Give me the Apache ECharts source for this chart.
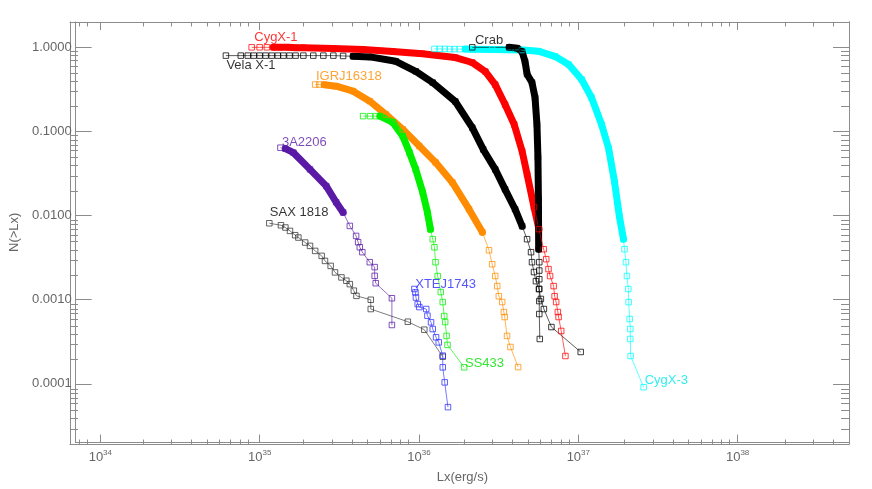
<!DOCTYPE html>
<html>
<head>
<meta charset="utf-8">
<script src="https://cdn.jsdelivr.net/npm/echarts@6/dist/echarts.min.js"></script>
<style>html,body{margin:0;padding:0;background:#fff}#c{width:872px;height:489px}</style>
</head>
<body>
<div id="c"></div>
<script>
// ---------------- data ----------------
const xRange = [7e33, 5e38];
const yRange = [2e-5, 2];
const xTickExponents = [34, 35, 36, 37, 38];
const yTickValues = [1e-4, 1e-3, 1e-2, 1e-1, 1];
const yTickLabels = ['0.0001', '0.0010', '0.0100', '0.1000', '1.0000'];

const cygx1Lx = [8.91e34,1.00e35,1.11e35,1.22e35,1.35e35,1.52e35,1.68e35,1.88e35,2.90e35,4.46e35,6.85e35,1.05e36,1.69e36,2.16e36,2.61e36,3.01e36,3.47e36,3.96e36,4.44e36,4.77e36,5.27e36,5.66e36,6.06e36,6.29e36,6.50e36,6.65e36,7.00e36,7.10e36,7.26e36,7.44e36,7.52e36,7.81e36,8.30e36];
const cygx1N  = [1.0,1.0,1.0,1.0,1.0,1.0,0.99,0.99,0.97,0.94,0.89,0.84,0.755,0.66,0.515,0.36,0.209,0.121,0.058,0.0309,0.0126,0.00689,0.00398,0.00303,0.00231,0.00191,0.00145,0.00110,0.000937,0.000713,0.000622,0.000425,0.000214];

const velaLx = [6.14e34,7.61e34,8.42e34,9.18e34,1.00e35,1.09e35,1.19e35,1.30e35,1.41e35,1.54e35,1.68e35,1.88e35,2.17e35,2.51e35,2.90e35,3.34e35,3.86e35,4.93e35,7.16e35,9.53e35,1.22e36,1.69e36,2.16e36,2.53e36,3.01e36,3.47e36,4.01e36,4.44e36,4.77e36,5.05e36,5.12e36,5.27e36,5.42e36,5.66e36,5.82e36,6.08e36,6.78e36,1.035e37];
const velaN  = [0.797,0.797,0.797,0.797,0.797,0.797,0.797,0.797,0.797,0.797,0.797,0.797,0.797,0.797,0.797,0.79,0.782,0.769,0.682,0.519,0.381,0.227,0.111,0.0611,0.0354,0.0205,0.0119,0.00747,0.00524,0.00367,0.00279,0.00213,0.00166,0.00134,0.00102,0.000774,0.000473,0.000239];

const crabLx = [2.16e36,3.68e36,4.13e36,4.44e36,4.63e36,4.77e36,5.12e36,5.35e36,5.50e36,5.58e36,5.62e36,5.64e36,5.69e36,5.69e36,5.69e36,5.69e36,5.69e36,5.69e36,5.73e36];
const crabN  = [1.0,1.0,0.978,0.889,0.676,0.48,0.381,0.253,0.121,0.0491,0.0156,0.00398,0.00279,0.00222,0.00175,0.00134,0.000962,0.000675,0.000341];

const cygx3Lx = [1.25e36,1.35e36,1.45e36,1.56e36,1.67e36,1.80e36,1.95e36,2.16e36,2.88e36,4.44e36,5.66e36,7.13e36,8.71e36,1.05e37,1.21e37,1.40e37,1.55e37,1.69e37,1.81e37,1.92e37,1.95e37,1.99e37,2.02e37,2.06e37,2.07e37,2.10e37,2.12e37,2.12e37,2.13e37,2.57e37];
const cygx3N  = [0.957,0.957,0.957,0.952,0.952,0.952,0.952,0.947,0.939,0.927,0.897,0.782,0.623,0.414,0.253,0.121,0.0629,0.0248,0.00982,0.00524,0.00398,0.00279,0.00191,0.00134,0.000936,0.000589,0.000448,0.000341,0.000214,0.0000911];

const igrLx = [2.23e35,2.37e35,2.54e35,3.02e35,3.86e35,4.91e35,6.20e35,7.91e35,1.005e36,1.27e36,1.62e36,2.06e36,2.50e36,2.75e36,2.88e36,3.01e36,3.10e36,3.17e36,3.33e36,3.41e36,3.45e36,3.57e36,3.75e36,4.19e36];
const igrN  = [0.361,0.361,0.359,0.345,0.301,0.229,0.159,0.106,0.067,0.0429,0.0248,0.0119,0.00634,0.00387,0.00264,0.00191,0.00145,0.00110,0.000937,0.000713,0.000622,0.000371,0.000274,0.000158];

const ss433Lx = [4.46e35,4.93e35,5.36e35,5.69e35,6.85e35,7.91e35,8.71e35,9.54e35,1.055e36,1.13e36,1.18e36,1.22e36,1.25e36,1.27e36,1.31e36,1.37e36,1.41e36,1.44e36,1.46e36,1.49e36,1.51e36,1.92e36];
const ss433N  = [0.152,0.152,0.152,0.152,0.128,0.0879,0.0563,0.0354,0.0189,0.0109,0.00687,0.00524,0.0042,0.00279,0.00191,0.00123,0.000937,0.000639,0.000542,0.000371,0.00029,0.000157];

const a2206Lx = [1.35e35,1.45e35,1.63e35,2.07e35,2.62e35,3.02e35,3.34e35,3.68e35,4.03e35,4.15e35,4.25e35,4.41e35,4.91e35,5.27e35,5.27e35,5.35e35,6.76e35,6.76e35];
const a2206N  = [0.0641,0.0623,0.0559,0.0354,0.0224,0.0144,0.0109,0.00753,0.00573,0.00482,0.0042,0.00367,0.00279,0.00244,0.00192,0.00157,0.00104,0.0005];

const saxLx = [1.15e35,1.36e35,1.45e35,1.55e35,1.67e35,1.75e35,1.93e35,2.07e35,2.23e35,2.45e35,2.57e35,2.79e35,2.97e35,3.26e35,3.50e35,3.68e35,3.90e35,4.05e35,4.98e35,4.98e35,8.51e35,1.08e36,1.41e36];
const saxN  = [0.0081,0.00767,0.00721,0.00657,0.00584,0.00548,0.00478,0.00436,0.0038,0.00332,0.00289,0.00252,0.00211,0.00184,0.00168,0.00153,0.00128,0.00111,0.000998,0.000774,0.000547,0.00044,0.00021];

const xteLx = [9.36e35,9.50e35,9.57e35,9.82e35,1.005e36,1.11e36,1.13e36,1.19e36,1.22e36,1.28e36,1.33e36,1.41e36,1.41e36,1.45e36,1.52e36];
const xteN  = [0.00134,0.00122,0.00106,0.000887,0.000817,0.000774,0.000645,0.000538,0.000448,0.000357,0.000311,0.000216,0.000157,0.000104,0.0000528];

// label anchors (left edge, vertical middle of text) in data units
const labelNames = ['CygX-1','Vela X-1','IGRJ16318','Crab','3A2206','SAX 1818','XTEJ1743','SS433','CygX-3'];
const labelLx = [9.18e34,6.14e34,2.24e35,2.23e36,1.37e35,1.15e35,9.40e35,1.93e36,2.59e37];
const labelN  = [1.30,0.615,0.455,1.20,0.075,0.0109,0.00153,0.000175,0.000111];

// ---------------- styles ----------------
const L = Math.log10;
const sources = [
  {name:'Vela X-1', lx:velaLx, n:velaN, color:'#000000', band:[16,27]},
  {name:'SAX 1818', lx:saxLx, n:saxN, color:'#333333', band:null},
  {name:'3A2206', lx:a2206Lx, n:a2206N, color:'#5a1aa6', band:[1,6]},
  {name:'IGRJ16318', lx:igrLx, n:igrN, color:'#ff8c00', band:[2,12]},
  {name:'SS433', lx:ss433Lx, n:ss433N, color:'#00f000', band:[3,10]},
  {name:'XTEJ1743', lx:xteLx, n:xteN, color:'#2b2bff', band:null},
  {name:'CygX-3', lx:cygx3Lx, n:cygx3N, color:'#00ffff', band:[6,19]},
  {name:'CygX-1', lx:cygx1Lx, n:cygx1N, color:'#ff0000', band:[3,21]},
  {name:'Crab', lx:crabLx, n:crabN, color:'#000000', band:[1,11]}
];
const labelColors = ['#ff0000','#000000','#ff8c00','#000000','#5a1aa6','#000000','#2b2bff','#00e000','#00e8e8'];

const axisColor = '#8c8c8c';
const labelColor = '#666666';
const fontFam = '"Liberation Sans", Arial, sans-serif';

function minorValues(lo, hi) {
  const out = [];
  for (let k = Math.floor(L(lo)); k <= Math.ceil(L(hi)); k++) {
    for (let m = 2; m <= 9; m++) {
      const v = L(m * Math.pow(10, k));
      if (v > L(lo) && v < L(hi)) out.push(v);
    }
  }
  return out;
}
const xMajor = xTickExponents.slice();
const yMajor = yTickValues.map(L);
const xMinor = minorValues(xRange[0], xRange[1]);
const yMinor = minorValues(yRange[0], yRange[1]);

const gridBox = {left:70, right:23, top:22, bottom:45, containLabel:false};

function xAxisDef(grid, pos, vals, len, withLabel) {
  return {
    type:'value', gridIndex:grid, position:pos, min:L(xRange[0]), max:L(xRange[1]),
    axisLine:{show:true, onZero:false, lineStyle:{color:axisColor, width:1}},
    axisTick:{show:true, inside:true, length:len, customValues:vals, lineStyle:{color:axisColor, width:1}},
    axisLabel: withLabel ? {
      show:true, customValues:vals, margin:7,
      formatter: v => '{b|10}{s|' + Math.round(v) + '}',
      rich:{
        b:{fontSize:13, fontFamily:fontFam, color:labelColor, lineHeight:16},
        s:{fontSize:8, fontFamily:fontFam, color:labelColor, lineHeight:16, padding:[0,0,9,0]}
      }
    } : {show:false},
    splitLine:{show:false},
    name: withLabel ? 'Lx(erg/s)' : '',
    nameLocation:'middle', nameGap:27,
    nameTextStyle:{fontSize:13, fontFamily:fontFam, color:labelColor}
  };
}
function yAxisDef(grid, pos, vals, len, withLabel) {
  return {
    type:'value', gridIndex:grid, position:pos, min:L(yRange[0]), max:L(yRange[1]),
    axisLine:{show:true, onZero:false, lineStyle:{color:axisColor, width:1}},
    axisTick:{show:true, inside:true, length:len, customValues:vals, lineStyle:{color:axisColor, width:1}},
    axisLabel: withLabel ? {
      show:true, customValues:vals, margin:4,
      fontSize:13, fontFamily:fontFam, color:labelColor,
      formatter: v => yTickLabels[yMajor.findIndex(t => Math.abs(t - v) < 1e-6)]
    } : {show:false},
    splitLine:{show:false},
    name: withLabel ? 'N(>Lx)' : '',
    nameLocation:'middle', nameGap:53, nameRotate:90,
    nameTextStyle:{fontSize:13, fontFamily:fontFam, color:labelColor}
  };
}

const series = [];
sources.forEach(s => {
  const pts = s.lx.map((x, i) => [L(x), L(s.n[i])]);
  if (s.band) {
    series.push({
      type:'line', xAxisIndex:0, yAxisIndex:0, data:pts.slice(s.band[0], s.band[1] + 1),
      symbol:'none', silent:true, z:2,
      lineStyle:{color:s.color, width:7, cap:'round', join:'round'}
    });
  }
  series.push({
    type:'line', xAxisIndex:0, yAxisIndex:0, data:pts, silent:true, z:3,
    symbol:'rect', symbolSize:5.5, showAllSymbol:true,
    itemStyle:{color:'rgba(0,0,0,0)', borderColor:s.color, borderWidth:0.9, opacity:0.85},
    lineStyle:{color:s.color, width:0.8, opacity:0.8}
  });
});
series.push({
  type:'scatter', xAxisIndex:0, yAxisIndex:0, silent:true, z:5,
  symbolSize:1, itemStyle:{color:'rgba(0,0,0,0)'},
  data: labelNames.map((nm, i) => ({
    value:[L(labelLx[i]), L(labelN[i])],
    label:{show:true, position:'right', distance:0, formatter:nm,
      color:labelColors[i], fontSize:13, fontFamily:fontFam}
  }))
});

const chart = echarts.init(document.getElementById('c'), null, {renderer:'canvas'});
chart.setOption({
  animation:false,
  backgroundColor:'#ffffff',
  grid:[Object.assign({}, gridBox), Object.assign({}, gridBox)],
  xAxis:[
    xAxisDef(0, 'bottom', xMajor, 8, true),
    xAxisDef(0, 'top', xMajor, 8, false),
    xAxisDef(1, 'bottom', xMinor, 4.5, false),
    xAxisDef(1, 'top', xMinor, 4.5, false)
  ],
  yAxis:[
    yAxisDef(0, 'left', yMajor, 16, true),
    yAxisDef(0, 'right', yMajor, 16, false),
    yAxisDef(1, 'left', yMinor, 8, false),
    yAxisDef(1, 'right', yMinor, 8, false)
  ],
  series:series
});
</script>
</body>
</html>
